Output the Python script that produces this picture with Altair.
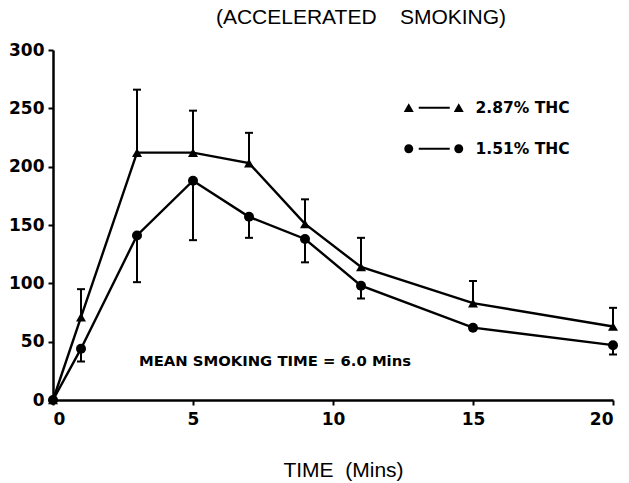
import altair as alt
import pandas as pd

# Sampling times (minutes) and mean plasma values for the two cigarette strengths
time_min = [0, 1, 3, 5, 7, 9, 11, 15, 20]
thc_287 = [0, 71, 212, 212, 203, 151, 114, 83, 63]
thc_287_upper = [None, 95, 266, 248, 229, 172, 139, 102, 79]
thc_151 = [0, 44, 141, 188, 157, 138, 98, 62, 47]
thc_151_lower = [None, 33, 101, 137, 139, 118, 87, None, 39]
series_names = ["2.87% THC", "1.51% THC"]
x_ticks = [0, 5, 10, 15, 20]
y_ticks = [0, 50, 100, 150, 200, 250, 300]

rows = []
for t, v, e in zip(time_min, thc_287, thc_287_upper):
    rows.append({"series": series_names[0], "t": t, "value": v, "err": e})
for t, v, e in zip(time_min, thc_151, thc_151_lower):
    rows.append({"series": series_names[1], "t": t, "value": v, "err": e})
df = pd.DataFrame(rows)

note = pd.DataFrame({"t": [3.07], "value": [33], "label": ["MEAN SMOKING TIME = 6.0 Mins"]})

FONT = "Liberation Sans"
BOLD = "DejaVu Sans"
NBSP = "\u00a0"

x_enc = alt.X(
    "t:Q",
    scale=alt.Scale(domain=[0, 20], nice=False, zero=False),
    axis=alt.Axis(
        values=x_ticks,
        title="TIME" + NBSP * 2 + "(Mins)",
        titleFont=FONT,
        titleFontSize=21,
        titleFontWeight="normal",
        titleX=290,
        titleY=76,
        titleBaseline="alphabetic",
        labelFont=BOLD,
        labelFontSize=17,
        labelFontWeight="bold",
        labelPadding=6,
        tickSize=5,
        tickWidth=2,
        domainWidth=2.5,
        grid=False,
        domainColor="black",
        tickColor="black",
        labelColor="black",
        titleColor="black",
    ),
)
y_enc = alt.Y(
    "value:Q",
    scale=alt.Scale(domain=[0, 300], nice=False),
    axis=alt.Axis(
        values=y_ticks,
        title=None,
        labelFont=BOLD,
        labelFontSize=17,
        labelFontWeight="bold",
        labelPadding=4,
        tickSize=5,
        tickWidth=2,
        domainWidth=2.5,
        grid=False,
        domainColor="black",
        tickColor="black",
        labelColor="black",
    ),
)

base = alt.Chart(df)

lines = base.mark_line(color="black", strokeWidth=2.4).encode(
    x=x_enc, y=y_enc, detail="series:N", order="t:Q"
)

points = base.mark_point(filled=True, color="black", opacity=1, size=100).encode(
    x="t:Q",
    y="value:Q",
    shape=alt.Shape(
        "series:N",
        scale=alt.Scale(domain=series_names, range=["triangle-up", "circle"]),
        legend=None,
    ),
)

bars = base.transform_filter("isValid(datum.err)").mark_rule(
    color="black", strokeWidth=2
).encode(x="t:Q", y="value:Q", y2="err:Q")

caps = base.transform_filter("isValid(datum.err)").mark_tick(
    color="black", orient="horizontal", thickness=2, size=8, opacity=1
).encode(x="t:Q", y="err:Q")

# Legend glyphs: marker - line - marker (path units are 5 px at symbolSize 100)
tri_glyph = (
    "M-6,0.85L-5,-0.9L-4,0.85Z"
    "M-3,-0.2H3.2V0.2H-3Z"
    "M4,0.85L5,-0.9L6,0.85Z"
)
circ_glyph = (
    "M-5.9,0A0.9,0.9 0 1,1 -4.1,0A0.9,0.9 0 1,1 -5.9,0Z"
    "M-3,-0.2H3.2V0.2H-3Z"
    "M4.1,0A0.9,0.9 0 1,1 5.9,0A0.9,0.9 0 1,1 4.1,0Z"
)

legend_layer = base.transform_filter("false").mark_point(
    filled=True, color="black", opacity=1, size=100
).encode(
    x="t:Q",
    y="value:Q",
    shape=alt.Shape(
        "series:N",
        scale=alt.Scale(domain=series_names, range=[tri_glyph, circ_glyph]),
        legend=alt.Legend(
            title=None,
            orient="none",
            legendX=373,
            legendY=50,
            padding=0,
            symbolSize=100,
            symbolFillColor="black",
            symbolStrokeWidth=0,
            symbolOpacity=1,
            labelFont=BOLD,
            labelFontSize=15.5,
            labelFontWeight="bold",
            labelColor="black",
            labelOffset=34,
            rowPadding=24,
        ),
    ),
)

note_text = alt.Chart(note).mark_text(
    align="left", baseline="middle", font=BOLD, fontSize=14.8, fontWeight="bold", color="black"
).encode(x="t:Q", y="value:Q", text="label:N")

chart = (
    alt.layer(lines, bars, caps, points, legend_layer, note_text)
    .resolve_scale(shape="independent")
    .properties(
        width=560,
        height=350,
        autosize=alt.AutoSizeParams(type="none"),
        padding={"left": 53, "top": 50, "right": 16, "bottom": 83},
        background="white",
        title=alt.TitleParams(
            "(ACCELERATED" + NBSP * 4 + "SMOKING)",
            font=FONT,
            fontSize=21,
            fontWeight="normal",
            color="black",
            anchor="middle",
            dx=28,
            dy=7,
            offset=3,
            baseline="alphabetic",
        ),
    )
    .configure_view(stroke=None)
)

chart.save("out.html", embed_options={"renderer": "svg", "actions": False})
